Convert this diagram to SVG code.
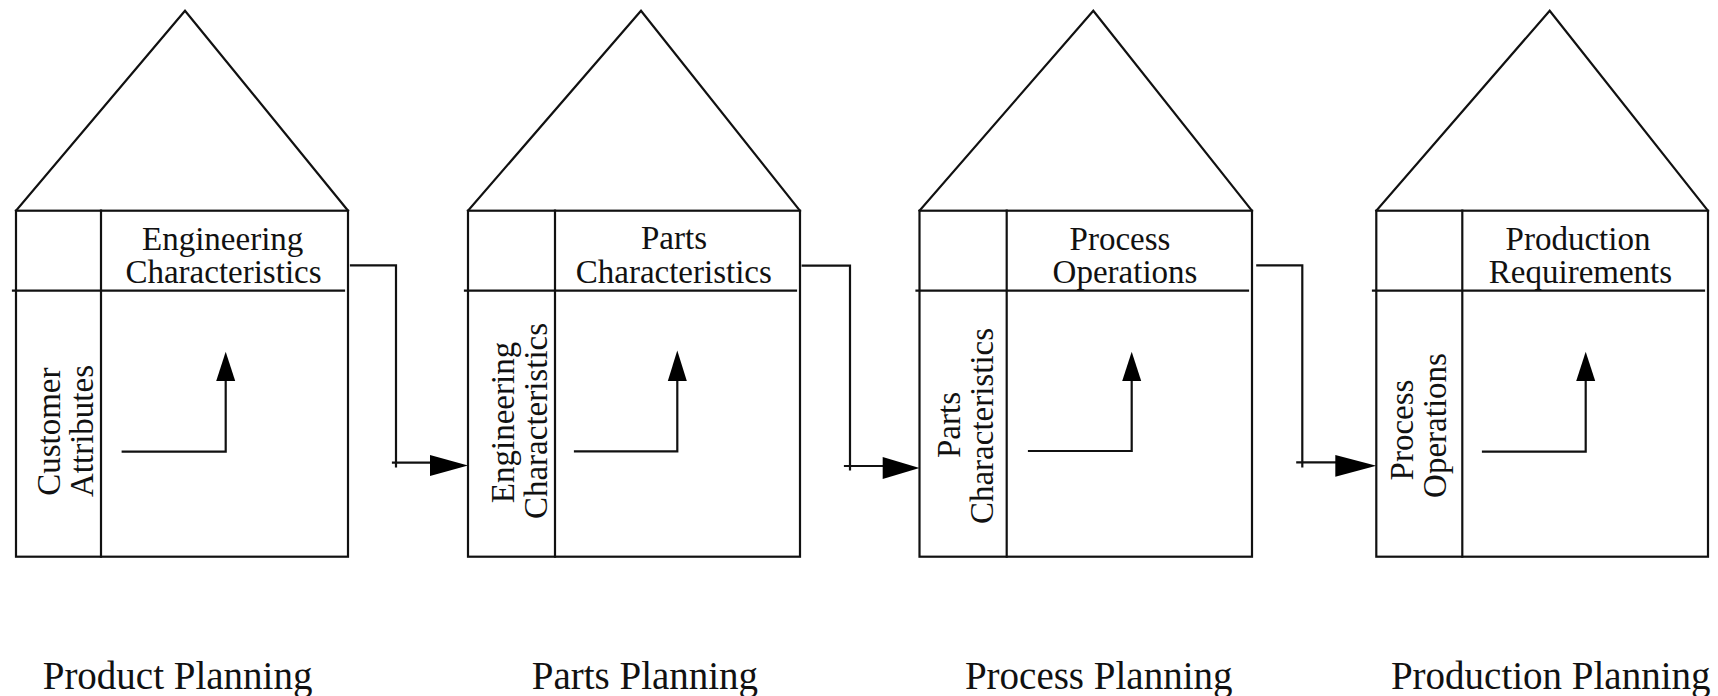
<svg xmlns="http://www.w3.org/2000/svg" width="1718" height="696" viewBox="0 0 1718 696">
<style>
.ln{fill:none;stroke:#111;stroke-width:2.2;stroke-linecap:square}
.hd{fill:#000;stroke:none}
.t{font-family:"Liberation Serif","Times New Roman",serif;font-size:33px;fill:#111;text-anchor:middle}
.b{font-family:"Liberation Serif","Times New Roman",serif;font-size:39px;fill:#111;text-anchor:start}
</style>
<rect width="1718" height="696" fill="#fff"/>
<g id="house1">
<polyline class="ln" points="16,210.7 185,10.7 348,210.7"/>
<rect class="ln" x="16" y="210.7" width="332" height="346"/>
<line class="ln" x1="13" y1="290.7" x2="344" y2="290.7"/>
<line class="ln" x1="101" y1="210.7" x2="101" y2="556.7"/>
<text class="t" x="222.7" y="250">Engineering</text>
<text class="t" x="223.5" y="282.7">Characteristics</text>
<text class="t" transform="translate(60,431.7) rotate(-90)">Customer</text>
<text class="t" transform="translate(93,431) rotate(-90)">Attributes</text>
<polyline class="ln" points="122.7,451.7 225.7,451.7 225.7,380"/>
<polygon class="hd" points="225.7,351.7 216.2,381 235.2,381"/>
<text class="b" x="42.7" y="689">Product Planning</text>
</g>
<g id="house2">
<polyline class="ln" points="468,210.7 641,10.7 800,210.7"/>
<rect class="ln" x="468" y="210.7" width="332" height="346"/>
<line class="ln" x1="465" y1="290.7" x2="796" y2="290.7"/>
<line class="ln" x1="555" y1="210.7" x2="555" y2="556.7"/>
<text class="t" x="674" y="249">Parts</text>
<text class="t" x="673.8" y="283">Characteristics</text>
<text class="t" transform="translate(514,422.5) rotate(-90)">Engineering</text>
<text class="t" transform="translate(547,421) rotate(-90)">Characteristics</text>
<polyline class="ln" points="575,451.3 677.3,451.3 677.3,380"/>
<polygon class="hd" points="677.3,350.5 667.8,381 686.8,381"/>
<text class="b" x="531.7" y="689">Parts Planning</text>
</g>
<g id="house3">
<polyline class="ln" points="919.5,210.7 1093.3,10.7 1252,210.7"/>
<rect class="ln" x="919.5" y="210.7" width="332.5" height="346"/>
<line class="ln" x1="916.5" y1="290.7" x2="1248" y2="290.7"/>
<line class="ln" x1="1006.7" y1="210.7" x2="1006.7" y2="556.7"/>
<text class="t" x="1120" y="250">Process</text>
<text class="t" x="1125" y="283">Operations</text>
<text class="t" transform="translate(960,425) rotate(-90)">Parts</text>
<text class="t" transform="translate(993,426) rotate(-90)">Characteristics</text>
<polyline class="ln" points="1029,451 1131.7,451 1131.7,380"/>
<polygon class="hd" points="1131.7,351.7 1122.2,381 1141.2,381"/>
<text class="b" x="964.9" y="689">Process Planning</text>
</g>
<g id="house4">
<polyline class="ln" points="1376.3,210.7 1549.7,10.7 1708,210.7"/>
<rect class="ln" x="1376.3" y="210.7" width="331.7" height="346"/>
<line class="ln" x1="1373" y1="290.7" x2="1704" y2="290.7"/>
<line class="ln" x1="1462.3" y1="210.7" x2="1462.3" y2="556.7"/>
<text class="t" x="1578" y="250">Production</text>
<text class="t" x="1580.5" y="283">Requirements</text>
<text class="t" transform="translate(1413,430) rotate(-90)">Process</text>
<text class="t" transform="translate(1446,425.5) rotate(-90)">Operations</text>
<polyline class="ln" points="1483,451.7 1585.7,451.7 1585.7,380"/>
<polygon class="hd" points="1585.7,351.7 1576.2,381 1595.2,381"/>
<text class="b" x="1390.9" y="689">Production Planning</text>
</g>
<g id="connectors">
<polyline class="ln" points="351,265.3 396,265.3 396,466.5"/>
<line class="ln" x1="393" y1="462.7" x2="432" y2="462.7"/>
<polygon class="hd" points="430,455 468,465.6 430,476"/>
<polyline class="ln" points="802.7,265.7 850,265.7 850,469.5"/>
<line class="ln" x1="845" y1="466" x2="884" y2="466"/>
<polygon class="hd" points="882.7,457 919.5,468 882.7,479"/>
<polyline class="ln" points="1257.3,265.3 1302.3,265.3 1302.3,466.5"/>
<line class="ln" x1="1297.3" y1="462.3" x2="1337" y2="462.3"/>
<polygon class="hd" points="1335.3,455 1376.3,465.8 1335.3,476.7"/>
</g>
</svg>
